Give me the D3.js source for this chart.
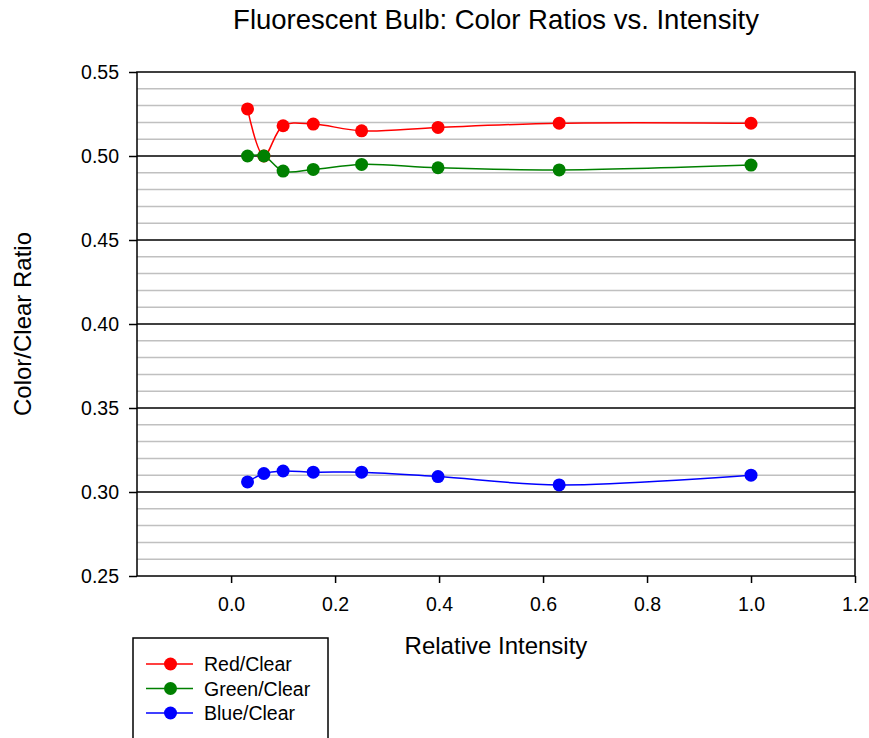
<!DOCTYPE html>
<html>
<head>
<meta charset="utf-8">
<script src="https://cdn.jsdelivr.net/npm/d3@7"></script>
<style>
  body { margin: 0; background: #fff; }
  text { font-family: Arial, "Liberation Sans", sans-serif; }
</style>
</head>
<body>
<div id="plot"></div>
<script>
// data
const intensity = [0.0316, 0.063, 0.1, 0.158, 0.251, 0.398, 0.631, 1.0];
const redRatio   = [0.528, 0.500, 0.518, 0.519, 0.515, 0.517, 0.5195, 0.5195];
const greenRatio = [0.500, 0.500, 0.491, 0.492, 0.495, 0.493, 0.4917, 0.4946];
const blueRatio  = [0.306, 0.311, 0.3125, 0.3118, 0.3118, 0.3092, 0.3042, 0.3100];
const seriesNames = ["Red/Clear", "Green/Clear", "Blue/Clear"];
const seriesColors = ["#ff0000", "#008000", "#0000ff"];
const xTicks = [0.0, 0.2, 0.4, 0.6, 0.8, 1.0, 1.2];
const yTicks = [0.25, 0.30, 0.35, 0.40, 0.45, 0.50, 0.55];

const w = 869;
const h = 738;
const margin = {top: 72, right: 14, bottom: 162, left: 137};
const innerWidth = w - margin.left - margin.right;
const innerHeight = h - margin.top - margin.bottom;

const svg = d3.select("div#plot")
  .append("svg")
    .attr("width", w)
    .attr("height", h);

const g = svg.append("g")
  .attr("transform", `translate(${margin.left}, ${margin.top})`);

const xScale = d3.scaleLinear()
  .domain([-0.181, 1.2])
  .range([0, innerWidth]);

const yScale = d3.scaleLinear()
  .domain([0.25, 0.55])
  .range([innerHeight, 0]);

// minor grid every 0.01
const minor = d3.range(26, 55).map(d => d / 100).filter(d => Math.round(d * 100) % 5 !== 0);
g.selectAll("line.minor")
  .data(minor)
  .enter()
  .append("line")
    .attr("class", "minor")
    .attr("x1", 0)
    .attr("x2", innerWidth)
    .attr("y1", d => yScale(d))
    .attr("y2", d => yScale(d))
    .attr("stroke", "#c0c0c0")
    .attr("stroke-width", 1.5);

// major grid
g.selectAll("line.major")
  .data(yTicks.slice(1, -1))
  .enter()
  .append("line")
    .attr("class", "major")
    .attr("x1", 0)
    .attr("x2", innerWidth)
    .attr("y1", d => yScale(d))
    .attr("y2", d => yScale(d))
    .attr("stroke", "#000")
    .attr("stroke-width", 1.5);

// frame
g.append("rect")
  .attr("width", innerWidth)
  .attr("height", innerHeight)
  .attr("fill", "none")
  .attr("stroke", "#000")
  .attr("stroke-width", 1.5);

// axes
const xAxis = d3.axisBottom(xScale)
  .tickValues(xTicks)
  .tickFormat(d3.format(".1f"))
  .tickSize(7)
  .tickPadding(14);

const yAxis = d3.axisLeft(yScale)
  .tickValues(yTicks)
  .tickFormat(d3.format(".2f"))
  .tickSize(8)
  .tickPadding(10);

g.append("g")
  .attr("transform", `translate(0, ${innerHeight})`)
  .call(xAxis)
  .call(a => a.select(".domain").remove());

g.append("g")
  .call(yAxis)
  .call(a => a.select(".domain").remove());

g.selectAll(".tick line").attr("stroke", "#000").attr("stroke-width", 1.5);
g.selectAll(".tick text")
  .style("font-size", "19.5px")
  .style("font-family", "Arial, 'Liberation Sans', sans-serif")
  .attr("fill", "#000");

// lines and markers
const series = [redRatio, greenRatio, blueRatio];
const line = d3.line()
  .x((d, i) => xScale(intensity[i]))
  .y(d => yScale(d))
  .curve(d3.curveCatmullRom.alpha(0.5));

series.forEach((vals, k) => {
  g.append("path")
    .datum(vals)
    .attr("d", line)
    .attr("fill", "none")
    .attr("stroke", seriesColors[k])
    .attr("stroke-width", 1.5);
  g.selectAll(null)
    .data(vals)
    .enter()
    .append("circle")
      .attr("cx", (d, i) => xScale(intensity[i]))
      .attr("cy", d => yScale(d))
      .attr("r", 6.5)
      .attr("fill", seriesColors[k]);
});

// title
svg.append("text")
  .attr("x", margin.left + innerWidth / 2)
  .attr("y", 29)
  .attr("text-anchor", "middle")
  .style("font-size", "27.5px")
  .text("Fluorescent Bulb: Color Ratios vs. Intensity");

// x-axis label
svg.append("text")
  .attr("x", margin.left + innerWidth / 2)
  .attr("y", 654)
  .attr("text-anchor", "middle")
  .style("font-size", "24px")
  .text("Relative Intensity");

// y-axis label
svg.append("text")
  .attr("transform", "rotate(-90)")
  .attr("x", -(margin.top + innerHeight / 2))
  .attr("y", 31)
  .attr("text-anchor", "middle")
  .style("font-size", "24px")
  .text("Color/Clear Ratio");

// legend
const legend = svg.append("g")
  .attr("transform", "translate(133, 638)");

legend.append("rect")
  .attr("width", 195)
  .attr("height", 110)
  .attr("fill", "#fff")
  .attr("stroke", "#000")
  .attr("stroke-width", 1.5);

seriesNames.forEach((name, k) => {
  const yy = 26 + k * 24.5;
  legend.append("line")
    .attr("x1", 13).attr("x2", 60)
    .attr("y1", yy).attr("y2", yy)
    .attr("stroke", seriesColors[k])
    .attr("stroke-width", 1.5);
  legend.append("circle")
    .attr("cx", 37.5).attr("cy", yy)
    .attr("r", 6.5)
    .attr("fill", seriesColors[k]);
  legend.append("text")
    .attr("x", 71)
    .attr("y", yy + 7)
    .style("font-size", "19.5px")
    .text(name);
});
</script>
</body>
</html>
